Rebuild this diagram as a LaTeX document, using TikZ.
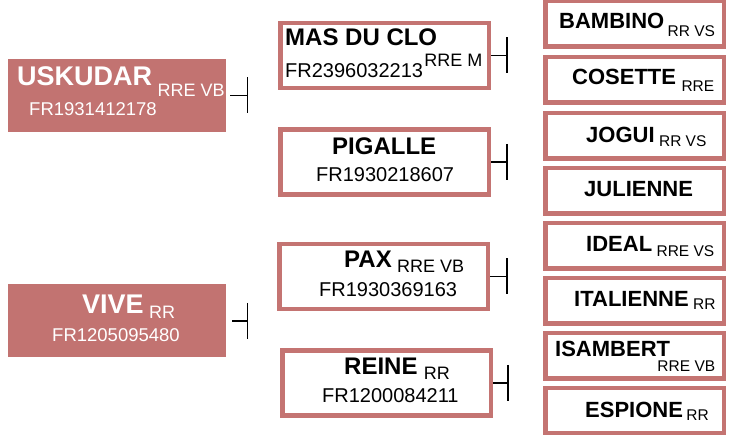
\documentclass[tikz,border=0pt]{standalone}
\usepackage{fontspec}
\setmainfont{Liberation Sans}
\usepackage{tikz}
\usetikzlibrary{positioning,arrows.meta}
\definecolor{perose}{HTML}{C27371}
\definecolor{peline}{HTML}{C47472}

\begin{document}
\begin{tikzpicture}[
  x=1pt, y=-1pt,
  sire/.style={rectangle, fill=perose, inner sep=0pt, minimum width=218pt, minimum height=73pt},
  gsire/.style={rectangle, draw=peline, line width=4.5pt, fill=white, inner sep=0pt, minimum width=208.5pt, minimum height=65pt},
  ggsire/.style={rectangle, draw=peline, line width=4.5pt, fill=white, inner sep=0pt, minimum width=178.5pt, minimum height=45.5pt},
  txt/.style={inner sep=0pt, anchor=base west},
  lname/.style={txt, text=white, font=\fontsize{27}{30}\selectfont\bfseries},
  ltag/.style={txt, text=white, font=\fontsize{18}{20}\selectfont},
  lid/.style={txt, text=white, font=\fontsize{18.5}{22}\selectfont},
  mname/.style={txt, font=\fontsize{24}{27}\selectfont\bfseries},
  mtag/.style={txt, font=\fontsize{18}{20}\selectfont},
  mid/.style={txt, font=\fontsize{20}{23}\selectfont},
  rname/.style={txt, font=\fontsize{22}{25}\selectfont\bfseries},
  rtag/.style={txt, font=\fontsize{15.5}{18}\selectfont},
  tee/.style={-{Bar[width=36pt]}, line width=1.6pt}
]
\useasboundingbox (0,0) rectangle (736,435);
% Parents
\node[sire] (usk) at (117,95.5) {};
\node[lname] (usk-name) at (17,86) {USKUDAR};
\node[ltag] (usk-tag) at ([xshift=5pt,yshift=-11pt]usk-name.base east) {RRE VB};
\node[lid] (usk-id) at (29,116) {FR1931412178};
\node[sire] (vive) at (117,321) {};
\node[lname] (vive-name) at (82,314) {VIVE};
\node[ltag] (vive-tag) at ([xshift=5pt,yshift=-5pt]vive-name.base east) {RR};
\node[lid] (vive-id) at (52,342) {FR1205095480};
% Grandparents
\node[gsire] (mas) at (384.5,55.5) {};
\node[mname] (mas-name) at (285,46) {MAS DU CLO};
\node[mid] (mas-id) at (285,78) {FR2396032213};
\node[mtag] (mas-tag) at ([xshift=1pt,yshift=11pt]mas-id.base east) {RRE M};
\node[gsire] (pig) at (384.5,162) {};
\node[mname] (pig-name) at (332,155) {PIGALLE};
\node[mid] (pig-id) at (316,182) {FR1930218607};
\node[gsire] (pax) at (383.5,276.5) {};
\node[mname] (pax-name) at (344,268) {PAX};
\node[mtag] (pax-tag) at ([xshift=5pt,yshift=-5pt]pax-name.base east) {RRE VB};
\node[mid] (pax-id) at (319,297) {FR1930369163};
\node[gsire] (rei) at (386.5,383) {};
\node[mname] (rei-name) at (344,374) {REINE};
\node[mtag] (rei-tag) at ([xshift=6pt,yshift=-6pt]rei-name.base east) {RR};
\node[mid] (rei-id) at (322,402) {FR1200084211};
% Great-grandparents
\node[ggsire] (bam) at (634.5,24) {};
\node[rname] (bam-name) at (559,29) {BAMBINO};
\node[rtag] (bam-tag) at ([xshift=3pt,yshift=-8pt]bam-name.base east) {RR VS};
\node[ggsire] (cos) at (634.5,80) {};
\node[rname] (cos-name) at (572,85) {COSETTE};
\node[rtag] (cos-tag) at ([xshift=5pt,yshift=-7pt]cos-name.base east) {RRE};
\node[ggsire] (jog) at (634.5,136) {};
\node[rname] (jog-name) at (586,143) {JOGUI};
\node[rtag] (jog-tag) at ([xshift=4pt,yshift=-4pt]jog-name.base east) {RR VS};
\node[ggsire] (jul) at (634.5,191) {};
\node[rname] (jul-name) at (584,197) {JULIENNE};
\node[ggsire] (ide) at (634.5,246) {};
\node[rname] (ide-name) at (586,252) {IDEAL};
\node[rtag] (ide-tag) at ([xshift=4pt,yshift=-5pt]ide-name.base east) {RRE VS};
\node[ggsire] (ita) at (634.5,301) {};
\node[rname] (ita-name) at (574,307) {ITALIENNE};
\node[rtag] (ita-tag) at ([xshift=4pt,yshift=-3pt]ita-name.base east) {RR};
\node[ggsire] (isa) at (634.5,356) {};
\node[rname] (isa-name) at (555,357) {ISAMBERT};
\node[rtag] (isa-tag) at ([xshift=-13pt,yshift=-15pt]isa-name.base east) {RRE VB};
\node[ggsire] (esp) at (634.5,410.5) {};
\node[rname] (esp-name) at (585,417) {ESPIONE};
\node[rtag] (esp-tag) at ([xshift=3pt,yshift=-3pt]esp-name.base east) {RR};
% Links
\draw[tee] ([xshift=4pt]usk.east) -- ++(18,0);
\draw[tee] ([xshift=6pt]vive.east) -- ++(16,0);
\draw[tee] (mas.east) -- ++(17,0);
\draw[tee] (pig.east) -- ++(17,0);
\draw[tee] (pax.east) -- ++(18,0);
\draw[tee] (rei.east) -- ++(16,0);
\end{tikzpicture}
\end{document}
